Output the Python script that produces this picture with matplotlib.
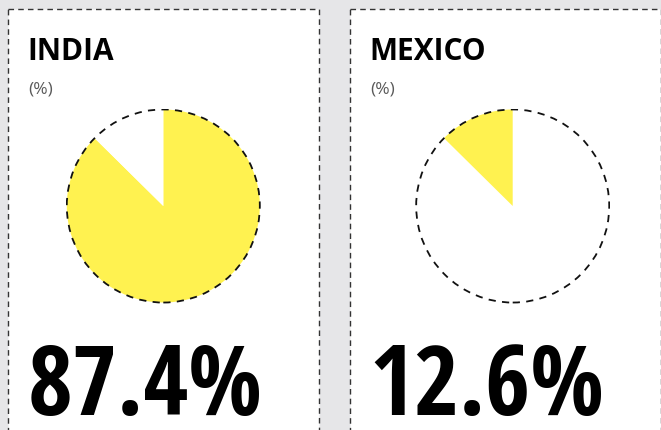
import matplotlib
matplotlib.use('Agg')
import matplotlib.pyplot as plt
from matplotlib.patches import Rectangle, Circle

countries = ['INDIA', 'MEXICO']
shares = [87.4, 12.6]          # % of the total, one per country
unit_label = '(%)'

YELLOW = '#fff250'
BG = '#e6e6e8'
W, H = 661, 430
SANS = ['Open Sans', 'DejaVu Sans']
COND = ['Open Sans Condensed', 'IBM Plex Sans Condensed', 'DejaVu Sans']

fig = plt.figure(figsize=(W / 100, H / 100), dpi=100)
fig.patch.set_facecolor(BG)

# overlay axes in pixel coordinates for the panels and the text
ov = fig.add_axes([0, 0, 1, 1])
ov.set_xlim(0, W)
ov.set_ylim(H, 0)
ov.axis('off')

panel_x = [8, 350]
panel_w = 311
pie_cx = [163.3, 512.7]
pie_cy, pie_r = 206, 97.5

for i, (name, x0) in enumerate(zip(countries, panel_x)):
    ov.add_patch(Rectangle((x0, 8.5), panel_w, 460, facecolor='white',
                           edgecolor='#333333', lw=1.0, ls=(0, (4, 3)), zorder=1))
    tx = x0 + 20.5
    ov.text(tx - 1, 60, name, fontsize=21.5, fontweight='bold', family=SANS,
            color='black', va='baseline', ha='left', zorder=3)
    ov.text(tx - 0.5, 89.5, unit_label, fontsize=12.5, family=SANS,
            color='#5a5a5a', va='center', ha='left', zorder=3)
    ov.text(tx - 1, 415, f'{shares[i]:.1f}%', fontsize=70, fontweight='bold',
            family=COND, color='black', va='baseline', ha='left', zorder=3)

    # pie: every pie shows the same split, the country's slice is highlighted
    pax = fig.add_axes([(pie_cx[i] - pie_r) / W, 1 - (pie_cy + pie_r) / H,
                        2 * pie_r / W, 2 * pie_r / H])
    colors = ['white'] * len(shares)
    colors[i] = YELLOW
    pax.pie(shares, colors=colors, startangle=90, counterclock=False,
            radius=1.0, wedgeprops=dict(linewidth=0))
    pax.add_patch(Circle((0, 0), 1.0, fill=False, edgecolor='#111111',
                         lw=1.3, ls=(0, (4, 3.5))))
    pax.set_xlim(-1.01, 1.01)
    pax.set_ylim(-1.01, 1.01)
    pax.set_aspect('equal')
    pax.axis('off')

fig.savefig('out.png', dpi=100, facecolor=BG)
